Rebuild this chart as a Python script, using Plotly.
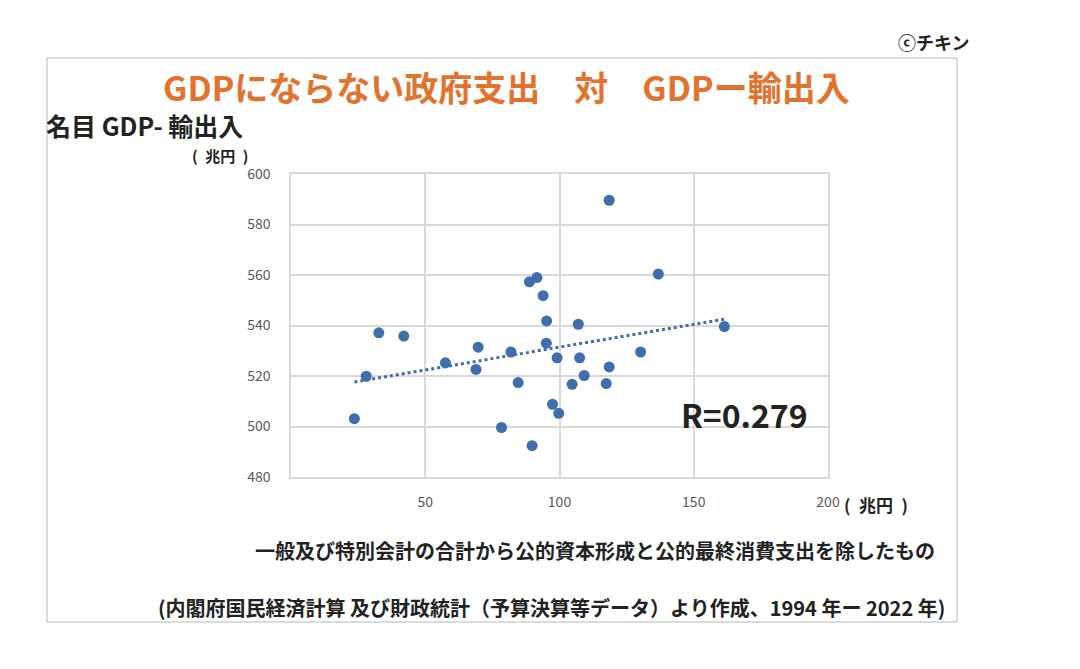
"""
Scatter chart: GDP-neutral government spending vs nominal GDP minus net exports.
"""
import numpy as np
import plotly.graph_objects as go

# Values (trillion yen), 1994-2022
spending = [23.6, 28.0, 32.7, 42.0, 57.5, 69.7, 68.9, 78.4, 81.9, 84.6,
            88.8, 91.6, 93.9, 95.2, 95.1, 99.1, 89.8, 97.4, 99.7, 118.5,
            136.8, 107.0, 161.4, 130.2, 107.5, 118.5, 109.2, 104.7, 117.4]
gdp_less_trade = [503.1, 519.9, 537.1, 535.8, 525.2, 531.4, 522.6, 499.6, 529.5, 517.4,
                  557.3, 559.0, 551.8, 541.8, 533.0, 527.2, 492.4, 508.8, 505.2, 589.6,
                  560.4, 540.5, 539.6, 529.5, 527.2, 523.6, 520.2, 516.7, 517.0]
x_ticks = [50, 100, 150, 200]
y_ticks = [480, 500, 520, 540, 560, 580, 600]
r_label = 'R=0.279'

# page has an 8px body margin, so the figure is drawn 8px smaller
OFF = 8
W, H = 1080 - 2 * OFF, 669 - 2 * OFF
L, T = 291 - OFF, 174 - OFF
R, B = W - (828 - OFF), H - (477 - OFF)
FONT = 'Noto Sans CJK JP'


def px(x):
    return (x - OFF - L) / (W - L - R)


def py(y):
    return 1 - (y - OFF - T) / (H - T - B)


# Linear trendline through the data
slope, intercept = np.polyfit(spending, gdp_less_trade, 1)
trend_x = np.array([min(spending), max(spending)])
trend_y = slope * trend_x + intercept

fig = go.Figure()
fig.add_trace(go.Scatter(
    x=trend_x, y=trend_y, mode='lines',
    line=dict(color='#3F6EAE', width=3, dash='dot'),
    hoverinfo='skip'
))
fig.add_trace(go.Scatter(
    x=spending, y=gdp_less_trade, mode='markers',
    marker=dict(color='#3F6EAE', size=11),
))

fig.update_layout(
    width=W, height=H,
    paper_bgcolor='white', plot_bgcolor='white',
    showlegend=False,
    margin=dict(l=L, r=R, t=T, b=B),
    font=dict(family=FONT, color='#222222'),
)
fig.update_xaxes(
    range=[0, 200], tickvals=x_ticks, showgrid=True, gridcolor='#D9D9D9', gridwidth=1.5,
    showline=True, linecolor='#D9D9D9', linewidth=1.5, mirror=True, zeroline=False,
    tickfont=dict(size=14, color='#595959', family=FONT), ticklabelstandoff=11,
)
fig.update_yaxes(
    range=[480, 600], tickvals=y_ticks, showgrid=True, gridcolor='#D9D9D9', gridwidth=1.5,
    showline=True, linecolor='#D9D9D9', linewidth=1.5, mirror=True, zeroline=False,
    tickfont=dict(size=14, color='#595959', family=FONT), ticklabelstandoff=16,
)

# Outer frame
fig.add_shape(type='rect', xref='paper', yref='paper',
              x0=px(47), x1=px(957), y0=py(58), y1=py(622),
              line=dict(color='#D0D0D0', width=1.5), layer='below')


def note(text, x, y, size, color='#222222', xanchor='center'):
    fig.add_annotation(text=text, xref='paper', yref='paper', x=px(x), y=py(y),
                       xanchor=xanchor, yanchor='middle', showarrow=False, borderpad=0,
                       font=dict(size=size, color=color, family=FONT))


note('<b>GDPにならない政府支出\u3000対\u3000GDPー輸出入</b>', 506, 87, 34, '#E2732E')
note('<b>名目 GDP- 輸出入</b>', 45, 125, 25, xanchor='left')
note('<b>(\u2002兆円\u2002)</b>', 220, 155, 15)
note('<b>ⓒチキン</b>', 933, 42, 18)
note('<b>(\u2002兆円\u2002)</b>', 876, 504, 17)
note(f'<b>{r_label}</b>', 744, 414, 32)
note('<b>一般及び特別会計の合計から公的資本形成と公的最終消費支出を除したもの</b>', 595, 550, 20)
note('<b>(内閣府国民経済計算 及び財政統計（予算決算等データ）より作成、1994 年ー 2022 年)</b>',
     551, 607, 20)

fig.write_html('out.html')
